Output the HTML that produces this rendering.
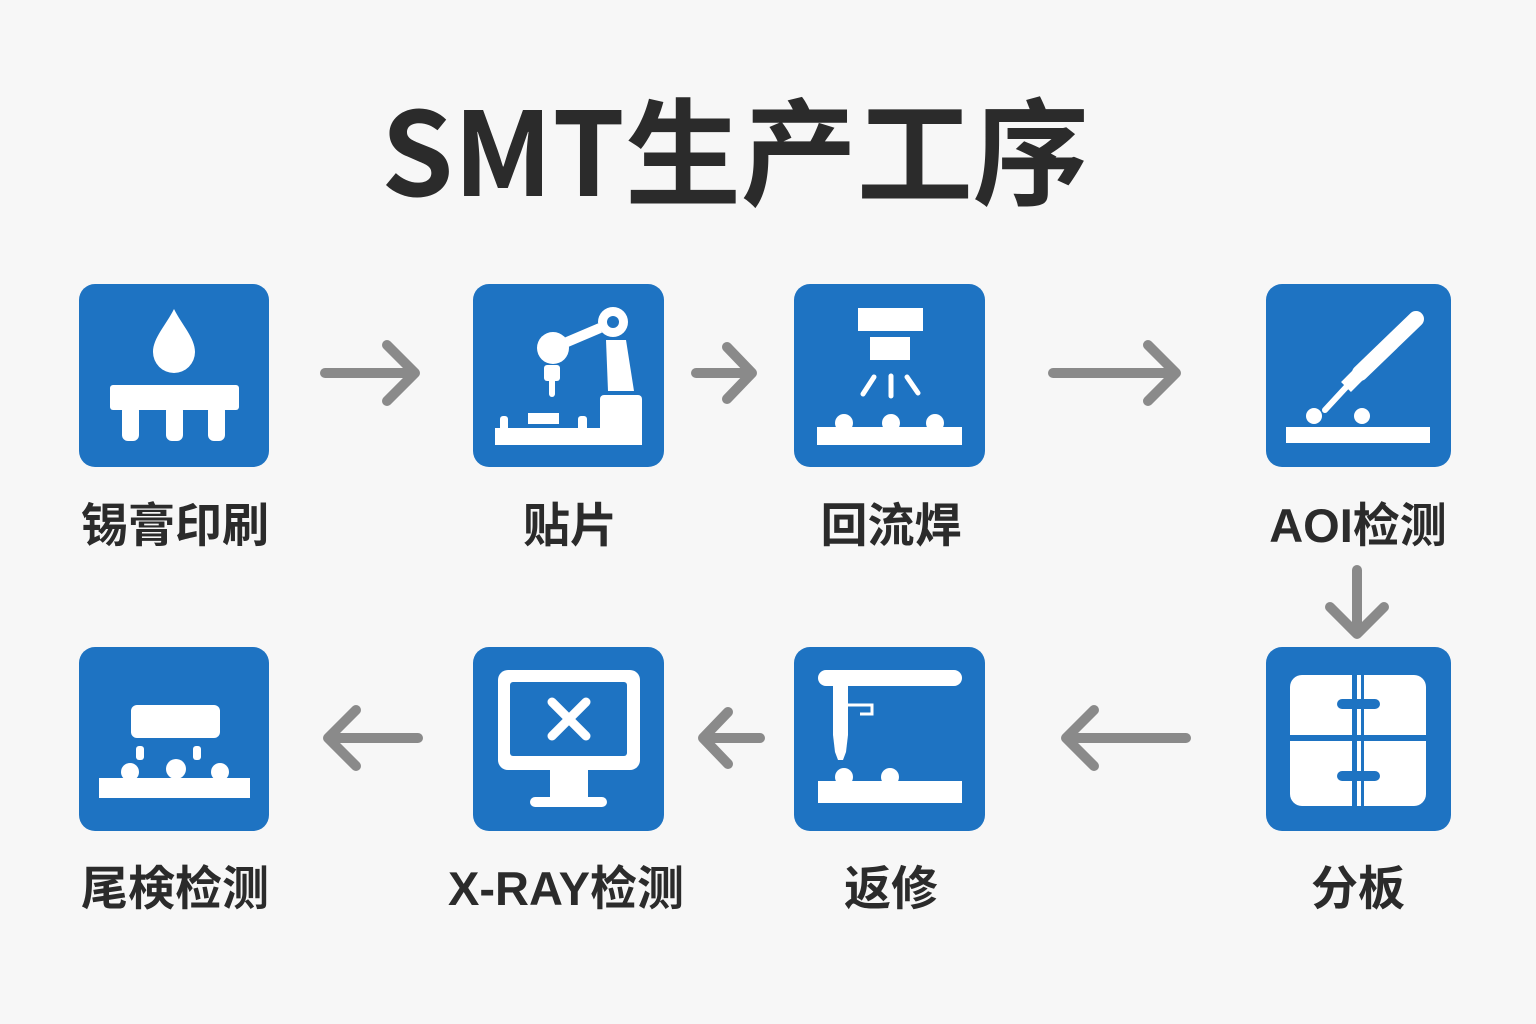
<!DOCTYPE html>
<html><head><meta charset="utf-8"><style>
body{margin:0;background:#f7f7f7;}
svg{display:block}
text{font-family:"Liberation Sans","Noto Sans CJK SC",sans-serif;font-weight:bold;fill:#2b2b2b;text-anchor:middle}
</style></head><body>
<svg width="1536" height="1024" viewBox="0 0 1536 1024">
<rect width="1536" height="1024" fill="#f7f7f7"/>
<text x="735" y="196" font-size="116" style="font-family:'Noto Sans CJK SC','Liberation Sans',sans-serif">SMT生产工序</text>
<g fill="#1e73c2">
<rect x="79" y="284" width="190" height="183" rx="16"/>
<rect x="473" y="284" width="191" height="183" rx="16"/>
<rect x="794" y="284" width="191" height="183" rx="16"/>
<rect x="1266" y="284" width="185" height="183" rx="16"/>
<rect x="79" y="647" width="190" height="184" rx="16"/>
<rect x="473" y="647" width="191" height="184" rx="16"/>
<rect x="794" y="647" width="191" height="184" rx="16"/>
<rect x="1266" y="647" width="185" height="184" rx="16"/>
</g>
<g fill="#fff" stroke="none">
<path d="M174 309 C166 325 153 338 153 352 A21 21 0 0 0 195 352 C195 338 182 325 174 309Z"/>
<rect x="110" y="385" width="129" height="25" rx="3"/>
<rect x="122" y="405" width="17" height="36" rx="6"/>
<rect x="166" y="405" width="17" height="36" rx="6"/>
<rect x="208" y="405" width="17" height="36" rx="6"/>
<rect x="495" y="428" width="147" height="17"/>
<rect x="500" y="416" width="8" height="16" rx="3"/>
<rect x="578" y="416" width="9" height="16" rx="3"/>
<rect x="528" y="413" width="31" height="11"/>
<rect x="600" y="395" width="42" height="40" rx="4"/>
<path d="M606 340 L626 340 L634 391 L608 391Z"/>
<circle cx="613" cy="322" r="15"/>
<line x1="553" y1="348" x2="600" y2="328" stroke="#fff" stroke-width="10"/>
<circle cx="553" cy="348" r="16"/>
<rect x="544" y="365" width="16" height="16" rx="3"/>
<rect x="549" y="378" width="6" height="19" rx="3"/>
<rect x="858" y="308" width="65" height="23"/>
<rect x="870" y="337" width="40" height="23"/>
<g stroke="#fff" stroke-width="5" stroke-linecap="round"><line x1="874" y1="377" x2="863" y2="394"/><line x1="891" y1="376" x2="891" y2="396"/><line x1="907" y1="377" x2="918" y2="393"/></g>
<rect x="817" y="427" width="145" height="18"/>
<circle cx="844" cy="423" r="9"/><circle cx="891" cy="423" r="9"/><circle cx="935" cy="423" r="9"/>
<rect x="1286" y="427" width="144" height="16"/>
<circle cx="1314" cy="416" r="8"/><circle cx="1362" cy="416" r="8"/>
<line x1="1360" y1="373" x2="1416" y2="319" stroke="#fff" stroke-width="16" stroke-linecap="round"/>
<line x1="1350" y1="383" x2="1325" y2="410" stroke="#fff" stroke-width="6" stroke-linecap="round"/>
<line x1="1346" y1="387" x2="1358" y2="375" stroke="#fff" stroke-width="14"/>
<rect x="1290" y="675" width="136" height="131" rx="12"/>
<rect x="818" y="670" width="144" height="16" rx="8"/>
<path d="M833 680 L848 680 L848 735 L846 752 L843 760 L838 760 L835 752 L833 735Z"/>
<path d="M848 705 L872 705 L872 714 L860 714" fill="none" stroke="#fff" stroke-width="3"/>
<rect x="818" y="781" width="144" height="22"/>
<circle cx="844" cy="777" r="9"/><circle cx="890" cy="777" r="9"/>
<rect x="498" y="670" width="142" height="100" rx="10"/>
<rect x="550" y="765" width="38" height="34"/>
<rect x="530" y="797" width="77" height="10" rx="5"/>
<rect x="131" y="705" width="89" height="33" rx="6"/>
<rect x="136" y="746" width="8" height="14" rx="3"/><rect x="193" y="746" width="8" height="14" rx="3"/>
<rect x="99" y="778" width="151" height="20"/>
<circle cx="130" cy="772" r="9"/><circle cx="176" cy="769" r="10"/><circle cx="220" cy="772" r="9"/>
</g>
<g fill="#1e73c2">
<rect x="510" y="682" width="117" height="74" rx="3"/>
<rect x="1352" y="675" width="5" height="131"/><rect x="1361" y="675" width="3" height="131"/>
<rect x="1290" y="735" width="136" height="6"/>
<rect x="1337" y="699" width="43" height="10" rx="5"/>
<rect x="1337" y="771" width="43" height="10" rx="5"/>
<circle cx="613" cy="322" r="6"/>
</g>
<g stroke="#fff" stroke-width="9" stroke-linecap="round"><line x1="552" y1="702" x2="586" y2="736"/><line x1="586" y1="702" x2="552" y2="736"/></g>
<g stroke="#8a8a8a" stroke-width="10" stroke-linecap="round" stroke-linejoin="round" fill="none">
<path d="M325 373 H415 M387 345 L415 373 L387 401"/>
<path d="M696 373 H752 M727 347 L752 373 L727 399"/>
<path d="M1053 373 H1176 M1148 345 L1176 373 L1148 401"/>
<path d="M1357 570 V634 M1330 607 L1357 634 L1384 607"/>
<path d="M418 738 H328 M356 710 L328 738 L356 766"/>
<path d="M760 738 H703 M728 712 L703 738 L728 764"/>
<path d="M1186 738 H1066 M1094 710 L1066 738 L1094 766"/>
</g>
<g font-size="47">
<text x="175" y="542">锡膏印刷</text>
<text x="570" y="542">贴片</text>
<text x="891" y="542">回流焊</text>
<text x="1358" y="542">AOI检测</text>
<text x="175" y="905">尾検检测</text>
<text x="566" y="905">X-RAY检测</text>
<text x="891" y="905">返修</text>
<text x="1358" y="905">分板</text>
</g>
</svg>
</body></html>
